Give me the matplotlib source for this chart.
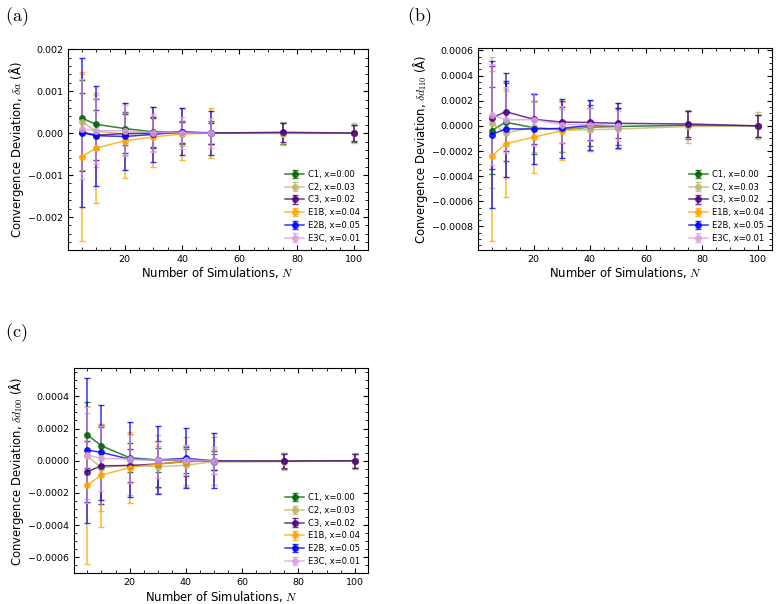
import matplotlib
matplotlib.use("Agg")
import matplotlib.pyplot as plt
from matplotlib.ticker import AutoMinorLocator

plt.rcParams["mathtext.fontset"] = "cm"
plt.rcParams["font.family"] = "DejaVu Sans"

# number of simulations
n_c = [5, 10, 20, 30, 40, 50, 75, 100]
n_e = [5, 10, 20, 30, 40, 50]

labels = ["C1, x=0.00", "C2, x=0.03", "C3, x=0.02", "E1B, x=0.04", "E2B, x=0.05", "E3C, x=0.01"]
colors = ["darkgreen", "darkkhaki", "indigo", "orange", "blue", "plum"]

# all values below in units of 1e-4 Angstrom
# (a) lattice parameter a
a_C1 = [3.6, 2.1, 1.1, 0.3, 0.2, 0.1, 0.0, 0.0]
a_C1_err = [9.0, 6.0, 4.0, 3.5, 2.7, 2.7, 2.5, 2.0]
a_C2 = [2.7, 0.5, -0.2, 0.0, -0.1, 0.0, -0.1, 0.0]
a_C2_err = [11.5, 8.5, 5.0, 4.2, 3.0, 2.7, 2.7, 2.3]
a_C3 = [0.3, -0.5, -0.1, 0.0, 0.1, 0.0, 0.2, 0.0]
a_C3_err = [9.3, 6.0, 4.7, 3.5, 2.5, 2.5, 2.2, 1.9]
a_E1B = [-5.6, -3.6, -1.8, -0.9, -0.2, 0.0]
a_E1B_err = [20.1, 13.1, 9.0, 7.2, 6.2, 5.9]
a_E2B = [0.1, -0.6, -0.8, -0.3, 0.3, 0.0]
a_E2B_err = [17.8, 11.9, 8.0, 6.5, 5.6, 5.3]
a_E3C = [1.0, 0.55, 0.6, 0.1, 0.1, 0.0]
a_E3C_err = [12.0, 7.8, 6.0, 4.5, 3.8, 3.6]

# (b) d110
b_C1 = [-0.37, 0.29, -0.15, -0.3, -0.1, -0.05, 0.05, 0.0]
b_C1_err = [3.45, 3.1, 2.1, 1.8, 1.5, 1.5, 1.1, 0.9]
b_C2 = [0.24, -0.58, -0.1, -0.35, -0.3, -0.25, -0.05, 0.0]
b_C2_err = [5.2, 3.5, 2.0, 1.7, 1.7, 1.6, 1.28, 1.08]
b_C3 = [0.63, 1.13, 0.52, 0.3, 0.27, 0.2, 0.15, 0.0]
b_C3_err = [4.1, 3.1, 2.0, 1.7, 1.4, 1.2, 1.05, 0.9]
b_E1B = [-2.4, -1.42, -0.9, -0.38, 0.0, 0.0]
b_E1B_err = [6.75, 4.2, 2.85, 2.3, 2.0, 1.8]
b_E2B = [-0.69, -0.24, -0.25, -0.2, 0.05, 0.0]
b_E2B_err = [5.85, 3.8, 2.8, 2.35, 1.98, 1.8]
b_E3C = [0.89, 0.47, 0.5, 0.1, 0.1, 0.0]
b_E3C_err = [4.0, 2.6, 2.1, 1.5, 1.3, 1.2]

# (c) d100
c_C1 = [1.6, 0.93, 0.19, 0.05, 0.0, -0.05, -0.03, 0.0]
c_C1_err = [2.06, 1.3, 0.9, 0.75, 0.75, 0.5, 0.5, 0.45]
c_C2 = [0.3, -0.43, -0.25, -0.37, -0.28, -0.05, -0.05, 0.0]
c_C2_err = [2.65, 2.7, 1.9, 1.3, 1.2, 0.75, 0.55, 0.5]
c_C3 = [-0.68, -0.31, -0.3, -0.2, -0.05, 0.0, -0.02, 0.0]
c_C3_err = [1.9, 2.4, 1.0, 1.4, 0.9, 0.6, 0.45, 0.45]
c_E1B = [-1.51, -0.89, -0.43, -0.2, -0.05, 0.0]
c_E1B_err = [4.9, 3.2, 2.2, 1.8, 1.55, 1.5]
c_E2B = [0.66, 0.52, 0.1, 0.05, 0.15, 0.0]
c_E2B_err = [4.5, 2.94, 2.33, 2.1, 1.86, 1.72]
c_E3C = [0.35, 0.15, 0.1, 0.05, 0.05, 0.0]
c_E3C_err = [3.0, 2.0, 1.5, 1.1, 0.95, 0.85]

scale = 1e-4

fig = plt.figure(figsize=(7.79, 6.04), dpi=100)

ax_a = fig.add_axes([0.0873, 0.586, 0.385, 0.333])
ax_b = fig.add_axes([0.614, 0.586, 0.3766, 0.334])
ax_c = fig.add_axes([0.095, 0.0508, 0.3774, 0.3394])

panels = [
    (ax_a, [(a_C1, a_C1_err), (a_C2, a_C2_err), (a_C3, a_C3_err),
            (a_E1B, a_E1B_err), (a_E2B, a_E2B_err), (a_E3C, a_E3C_err)],
     r"Convergence Deviation, $\delta a$ (Å)"),
    (ax_b, [(b_C1, b_C1_err), (b_C2, b_C2_err), (b_C3, b_C3_err),
            (b_E1B, b_E1B_err), (b_E2B, b_E2B_err), (b_E3C, b_E3C_err)],
     r"Convergence Deviation, $\delta d_{110}$ (Å)"),
    (ax_c, [(c_C1, c_C1_err), (c_C2, c_C2_err), (c_C3, c_C3_err),
            (c_E1B, c_E1B_err), (c_E2B, c_E2B_err), (c_E3C, c_E3C_err)],
     r"Convergence Deviation, $\delta d_{100}$ (Å)"),
]

for ax, series, ylab in panels:
    for i, (vals, errs) in enumerate(series):
        xs = n_c if i < 3 else n_e
        ax.errorbar(xs, [v * scale for v in vals], yerr=[e * scale for e in errs],
                    color=colors[i], label=labels[i], marker="o", markersize=4,
                    linewidth=1.1, elinewidth=1.1, capsize=2, alpha=0.8)
    ax.set_xlabel(r"Number of Simulations, $N$", fontsize=8.4, labelpad=1)
    ax.set_ylabel(ylab, fontsize=8.4, labelpad=1.5)
    ax.xaxis.set_minor_locator(AutoMinorLocator())
    ax.yaxis.set_minor_locator(AutoMinorLocator())
    ax.tick_params(which="both", direction="in", top=True, right=True, labelsize=6.8)
    ax.tick_params(which="major", length=3.5)
    ax.tick_params(which="minor", length=2)
    ax.legend(loc="lower right", frameon=False, fontsize=6, labelspacing=0.45,
              handlelength=2.3, handletextpad=0.5)

fig.text(0.006, 0.972, r"$\mathrm{(a)}$", fontsize=13, va="center", ha="left")
fig.text(0.523, 0.972, r"$\mathrm{(b)}$", fontsize=13, va="center", ha="left")
fig.text(0.006, 0.45, r"$\mathrm{(c)}$", fontsize=13, va="center", ha="left")

fig.savefig("out.png", dpi=100)
